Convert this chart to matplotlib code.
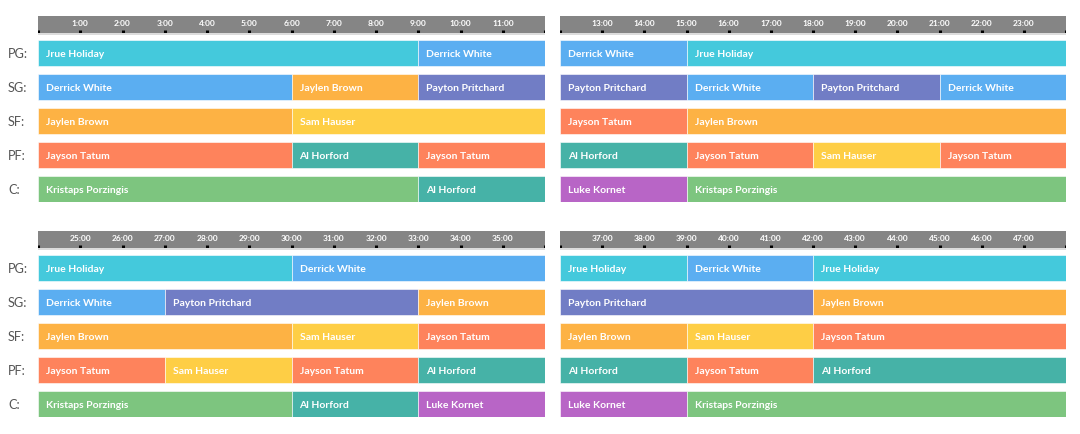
import matplotlib.pyplot as plt

positions = ["PG", "SG", "SF", "PF", "C"]

player_colors = {
    "Jrue Holiday": "#44C9DC",
    "Derrick White": "#5BAEF1",
    "Jaylen Brown": "#FDB244",
    "Payton Pritchard": "#717DC5",
    "Sam Hauser": "#FECE45",
    "Jayson Tatum": "#FE835C",
    "Al Horford": "#46B2A7",
    "Kristaps Porzingis": "#7DC57F",
    "Luke Kornet": "#B865C6",
}

# (player, start minute, end minute) per position
pg_stints = [("Jrue Holiday", 0, 9), ("Derrick White", 9, 12), ("Derrick White", 12, 15),
             ("Jrue Holiday", 15, 24), ("Jrue Holiday", 24, 30), ("Derrick White", 30, 36),
             ("Jrue Holiday", 36, 39), ("Derrick White", 39, 42), ("Jrue Holiday", 42, 48)]
sg_stints = [("Derrick White", 0, 6), ("Jaylen Brown", 6, 9), ("Payton Pritchard", 9, 12),
             ("Payton Pritchard", 12, 15), ("Derrick White", 15, 18), ("Payton Pritchard", 18, 21),
             ("Derrick White", 21, 24), ("Derrick White", 24, 27), ("Payton Pritchard", 27, 33),
             ("Jaylen Brown", 33, 36), ("Payton Pritchard", 36, 42), ("Jaylen Brown", 42, 48)]
sf_stints = [("Jaylen Brown", 0, 6), ("Sam Hauser", 6, 12), ("Jayson Tatum", 12, 15),
             ("Jaylen Brown", 15, 24), ("Jaylen Brown", 24, 30), ("Sam Hauser", 30, 33),
             ("Jayson Tatum", 33, 36), ("Jaylen Brown", 36, 39), ("Sam Hauser", 39, 42),
             ("Jayson Tatum", 42, 48)]
pf_stints = [("Jayson Tatum", 0, 6), ("Al Horford", 6, 9), ("Jayson Tatum", 9, 12),
             ("Al Horford", 12, 15), ("Jayson Tatum", 15, 18), ("Sam Hauser", 18, 21),
             ("Jayson Tatum", 21, 24), ("Jayson Tatum", 24, 27), ("Sam Hauser", 27, 30),
             ("Jayson Tatum", 30, 33), ("Al Horford", 33, 36), ("Al Horford", 36, 39),
             ("Jayson Tatum", 39, 42), ("Al Horford", 42, 48)]
c_stints = [("Kristaps Porzingis", 0, 9), ("Al Horford", 9, 12), ("Luke Kornet", 12, 15),
            ("Kristaps Porzingis", 15, 24), ("Kristaps Porzingis", 24, 30), ("Al Horford", 30, 33),
            ("Luke Kornet", 33, 36), ("Luke Kornet", 36, 39), ("Kristaps Porzingis", 39, 48)]

stints = [pg_stints, sg_stints, sf_stints, pf_stints, c_stints]
quarter_starts = [0, 12, 24, 36]

W, H = 1080, 434
FONT = ["Lato", "DejaVu Sans"]


def px_axes(fig, x0, y0, x1, y1):
    return fig.add_axes([x0 / W, 1 - y1 / H, (x1 - x0) / W, (y1 - y0) / H])


def main() -> None:
    fig = plt.figure(figsize=(W / 100, H / 100), dpi=100)

    panels = [(38, 545, 16), (560, 1066, 16), (38, 545, 231), (560, 1066, 231)]
    bar_h = 26 / 34

    for q, (x0, x1, top) in enumerate(panels):
        q0 = quarter_starts[q]
        q1 = q0 + 12

        # header with minute ticks
        hax = px_axes(fig, x0, top, x1, top + 17)
        hax.set_facecolor("#858585")
        hax.set_xlim(q0, q1)
        hax.set_ylim(0, 1)
        for m in range(q0, q1 + 1):
            hax.plot([m, m], [0, 0.2], color="black", lw=2.2, solid_capstyle="butt")
            if q0 < m < q1:
                hax.text(m, 0.58, f"{m}:00", ha="center", va="center_baseline", color="white",
                         fontsize=6.0, fontweight="bold", family=FONT)
        hax.set_xticks([])
        hax.set_yticks([])
        for s in hax.spines.values():
            s.set_visible(False)
        lax = px_axes(fig, x0, top + 17, x1, top + 18.5)
        lax.set_facecolor("#dcdcdc")
        lax.set_xticks([])
        lax.set_yticks([])
        for s in lax.spines.values():
            s.set_visible(False)

        # rotation rows
        ax = px_axes(fig, x0, top + 24, x1, top + 186)
        for row, pos_stints in enumerate(stints):
            for player, start, end in pos_stints:
                if start < q0 or end > q1:
                    continue
                ax.barh(row, end - start, left=start, height=bar_h,
                        color=player_colors[player], edgecolor="white", linewidth=0.4)
                ax.text(start + 0.19, row + 0.02, player, ha="left", va="center_baseline",
                        color="white", fontsize=7.5, fontweight="bold", family=FONT)
            if q % 2 == 0:
                fig.text(8 / W, 1 - (top + 24 + 13 + 34 * row) / H, positions[row] + ":",
                         ha="left", va="center_baseline", fontsize=9.2, color="#555555",
                         family=FONT)
        ax.set_xlim(q0, q1)
        ax.set_ylim(4 + bar_h / 2, -bar_h / 2)
        ax.axis("off")

    plt.savefig("out.png", dpi=100)
    plt.close()


if __name__ == "__main__":
    main()
